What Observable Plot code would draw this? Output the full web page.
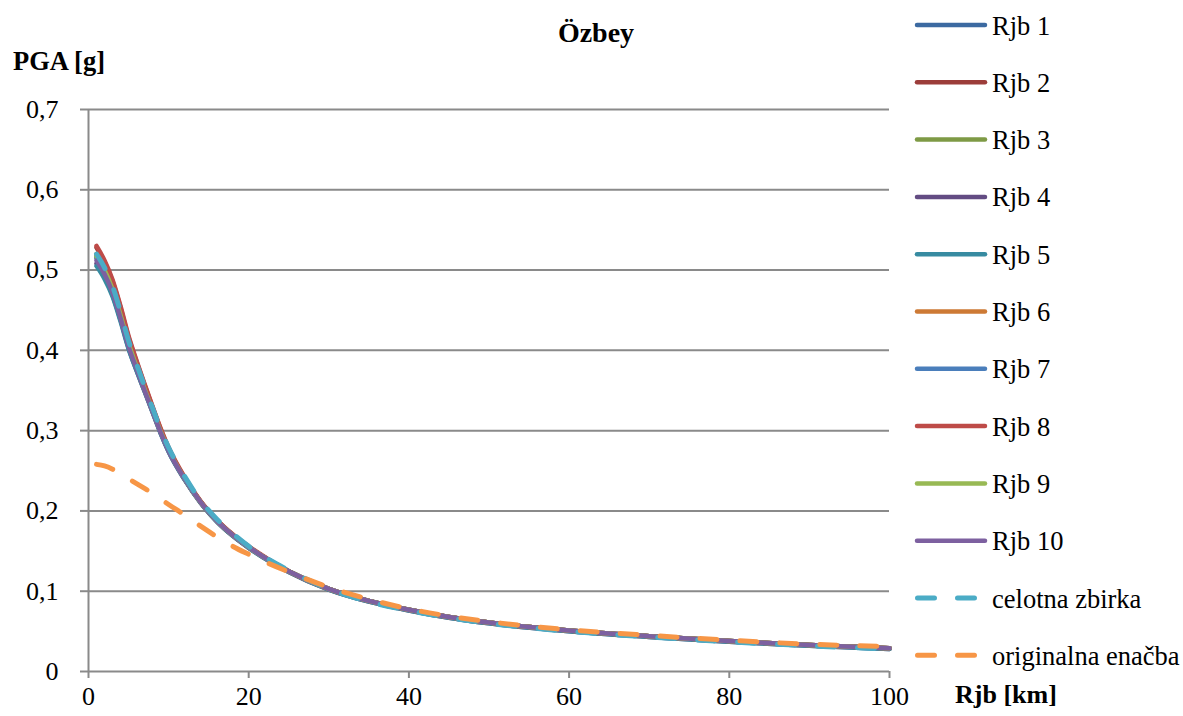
<!DOCTYPE html>
<html>
<head>
<meta charset="utf-8">
<script src="https://cdn.jsdelivr.net/npm/d3@7"></script>
<script src="https://cdn.jsdelivr.net/npm/@observablehq/plot@0.6"></script>
<style>
  body { margin: 0; background: #fff; }
  #chart { position: relative; width: 1183px; height: 716px; font-family: "Liberation Serif", "Times New Roman", Times, serif; color: #000; }
  #chart svg { font-family: "Liberation Serif", "Times New Roman", Times, serif; }
  #chart svg.overlay { position: absolute; left: 0; top: 0; pointer-events: none; }
</style>
</head>
<body>
<div id="chart"></div>
<script>
// Distance Rjb [km] at which each curve is sampled
const rjb = [1, 2, 3, 4, 5, 6, 7, 8, 9, 10, 12, 14, 16, 18, 20, 25, 30, 35, 40, 45, 50, 60, 70, 80, 90, 100];

// PGA [g] for each distance subset
const rjb1  = [0.515, 0.498, 0.475, 0.443, 0.408, 0.379, 0.352, 0.325, 0.299, 0.276, 0.240, 0.211, 0.188, 0.170, 0.155, 0.125, 0.103, 0.088, 0.077, 0.068, 0.061, 0.051, 0.044, 0.038, 0.033, 0.029];
const rjb2  = [0.528, 0.510, 0.486, 0.453, 0.416, 0.386, 0.357, 0.329, 0.302, 0.278, 0.241, 0.212, 0.189, 0.170, 0.155, 0.125, 0.103, 0.088, 0.077, 0.068, 0.061, 0.051, 0.044, 0.038, 0.033, 0.029];
const rjb3  = [0.518, 0.500, 0.477, 0.445, 0.409, 0.380, 0.352, 0.325, 0.299, 0.276, 0.240, 0.211, 0.188, 0.170, 0.155, 0.125, 0.103, 0.088, 0.077, 0.068, 0.061, 0.051, 0.044, 0.038, 0.033, 0.029];
const rjb4  = [0.508, 0.492, 0.469, 0.438, 0.403, 0.375, 0.349, 0.323, 0.297, 0.274, 0.239, 0.210, 0.187, 0.169, 0.154, 0.124, 0.102, 0.087, 0.076, 0.067, 0.060, 0.050, 0.043, 0.037, 0.032, 0.028];
const rjb5  = [0.505, 0.489, 0.467, 0.436, 0.402, 0.375, 0.349, 0.323, 0.297, 0.274, 0.239, 0.210, 0.187, 0.169, 0.154, 0.124, 0.102, 0.087, 0.076, 0.067, 0.060, 0.050, 0.043, 0.037, 0.032, 0.028];
const rjb6  = [0.520, 0.502, 0.478, 0.446, 0.410, 0.381, 0.353, 0.326, 0.300, 0.277, 0.241, 0.211, 0.188, 0.170, 0.155, 0.125, 0.103, 0.088, 0.077, 0.068, 0.061, 0.051, 0.044, 0.038, 0.033, 0.029];
const rjb7  = [0.516, 0.499, 0.476, 0.444, 0.408, 0.379, 0.352, 0.325, 0.299, 0.276, 0.240, 0.211, 0.188, 0.170, 0.155, 0.125, 0.103, 0.088, 0.077, 0.068, 0.061, 0.051, 0.044, 0.038, 0.033, 0.029];
const rjb8  = [0.530, 0.512, 0.488, 0.455, 0.418, 0.387, 0.358, 0.330, 0.303, 0.279, 0.242, 0.212, 0.189, 0.171, 0.156, 0.125, 0.103, 0.088, 0.077, 0.068, 0.061, 0.051, 0.044, 0.038, 0.033, 0.029];
const rjb9  = [0.517, 0.500, 0.476, 0.444, 0.409, 0.380, 0.352, 0.325, 0.299, 0.276, 0.240, 0.211, 0.188, 0.170, 0.155, 0.125, 0.103, 0.088, 0.077, 0.068, 0.061, 0.051, 0.044, 0.038, 0.033, 0.029];
const rjb10 = [0.512, 0.495, 0.472, 0.440, 0.405, 0.377, 0.350, 0.324, 0.298, 0.275, 0.240, 0.211, 0.188, 0.170, 0.155, 0.125, 0.103, 0.088, 0.077, 0.068, 0.061, 0.051, 0.044, 0.038, 0.033, 0.029];
const celotnaZbirka     = [0.520, 0.503, 0.480, 0.448, 0.412, 0.383, 0.355, 0.328, 0.302, 0.279, 0.243, 0.213, 0.190, 0.172, 0.156, 0.126, 0.103, 0.087, 0.076, 0.067, 0.060, 0.050, 0.043, 0.037, 0.032, 0.028];
const originalnaEnacba  = [0.258, 0.256, 0.252, 0.246, 0.240, 0.234, 0.228, 0.222, 0.215, 0.208, 0.195, 0.181, 0.168, 0.156, 0.146, 0.124, 0.105, 0.090, 0.078, 0.069, 0.062, 0.052, 0.045, 0.039, 0.034, 0.031];

const seriesNames = ["Rjb 1", "Rjb 2", "Rjb 3", "Rjb 4", "Rjb 5", "Rjb 6", "Rjb 7", "Rjb 8", "Rjb 9", "Rjb 10", "celotna zbirka", "originalna enačba"];
const seriesValues = [rjb1, rjb2, rjb3, rjb4, rjb5, rjb6, rjb7, rjb8, rjb9, rjb10, celotnaZbirka, originalnaEnacba];
const seriesColors = ["#3C6AA1", "#9C3D3A", "#7E9A45", "#634C83", "#378BA1", "#CD7A35", "#4A7EBB", "#BE4B48", "#98B954", "#7D60A0", "#4BACC6", "#F79646"];
const seriesDashed = [false, false, false, false, false, false, false, false, false, false, true, true];

const xTicks = [0, 20, 40, 60, 80, 100];
const yTicks = [0, 0.1, 0.2, 0.3, 0.4, 0.5, 0.6, 0.7];

const W = 1183, H = 716;
const M = {left: 88, right: 294, top: 109, bottom: 45};
const serif = '"Liberation Serif", "Times New Roman", Times, serif';
const gridColor = "#8A8A8A";
const fontSize = 26;
const commaFormat = d => d === 0 ? "0" : d3.format(".1f")(d).replace(".", ",");
const noLabel = () => "";

// one line mark per series, drawn in legend order so the dashed fits end on top
const lineMarks = seriesNames.map((name, i) => {
  const rows = rjb.map((r, j) => ({Rjb: r, PGA: seriesValues[i][j], series: name}));
  return Plot.line(rows, {
    x: "Rjb", y: "PGA",
    stroke: seriesColors[i],
    strokeWidth: seriesDashed[i] ? 5 : 4.5,
    strokeDasharray: seriesDashed[i] ? "17,23" : null,
    strokeLinecap: "round",
    strokeLinejoin: "round",
    curve: "monotone-x"
  });
});

const plot = Plot.plot({
  width: W, height: H,
  marginLeft: M.left, marginRight: M.right, marginTop: M.top, marginBottom: M.bottom,
  style: {fontFamily: serif, fontSize: fontSize + "px", color: "#000", background: "transparent", overflow: "visible"},
  x: {domain: [0, 100], label: null},
  y: {domain: [0, 0.7], label: null},
  marks: [
    Plot.ruleY(yTicks.filter(d => d > 0), {x1: 0, x2: 100, stroke: gridColor, strokeWidth: 2}),
    // tick marks
    Plot.axisY({ticks: yTicks, tickFormat: noLabel, tickSize: 8, stroke: gridColor, strokeWidth: 2, label: null}),
    Plot.axisX({ticks: xTicks, tickFormat: noLabel, tickSize: 7, stroke: gridColor, strokeWidth: 2, label: null}),
    // tick labels
    Plot.axisY({ticks: yTicks, tickFormat: commaFormat, tickSize: 0, dx: -21, fill: "#000", fontSize: fontSize, fontFamily: serif, label: null}),
    Plot.axisX({ticks: xTicks, tickFormat: d => String(d), tickSize: 0, dy: 6, fill: "#000", fontSize: fontSize, fontFamily: serif, label: null}),
    Plot.ruleX([0], {y1: 0, y2: 0.7, stroke: gridColor, strokeWidth: 2}),
    Plot.ruleY([0], {x1: 0, x2: 100, stroke: gridColor, strokeWidth: 2}),
    ...lineMarks
  ]
});

const chart = document.getElementById("chart");
chart.appendChild(plot);

// Title, axis names and legend
const over = d3.select(chart).append("svg")
  .attr("class", "overlay")
  .attr("width", W).attr("height", H)
  .attr("font-family", serif);

over.append("text").attr("x", 596).attr("y", 42).attr("text-anchor", "middle")
  .attr("font-size", 28).attr("font-weight", "bold").text("Özbey");
over.append("text").attr("x", 13).attr("y", 70)
  .attr("font-size", 26.5).attr("font-weight", "bold").text("PGA [g]");
over.append("text").attr("x", 955).attr("y", 703)
  .attr("font-size", 26).attr("font-weight", "bold").text("Rjb [km]");

const legendTop = 25, legendStep = 57.3;
const legend = over.append("g");
seriesNames.forEach((name, i) => {
  const cy = legendTop + i * legendStep;
  const row = legend.append("g");
  if (seriesDashed[i]) {
    row.append("line").attr("x1", 917.5).attr("x2", 975).attr("y1", cy).attr("y2", cy)
      .attr("stroke", seriesColors[i]).attr("stroke-width", 5)
      .attr("stroke-linecap", "round").attr("stroke-dasharray", "17,23");
  } else {
    row.append("line").attr("x1", 917).attr("x2", 985).attr("y1", cy).attr("y2", cy)
      .attr("stroke", seriesColors[i]).attr("stroke-width", 4.5)
      .attr("stroke-linecap", "round");
  }
  row.append("text").attr("x", 992).attr("y", cy + 9.5).attr("font-size", 26.5).text(name);
});
</script>
</body>
</html>
